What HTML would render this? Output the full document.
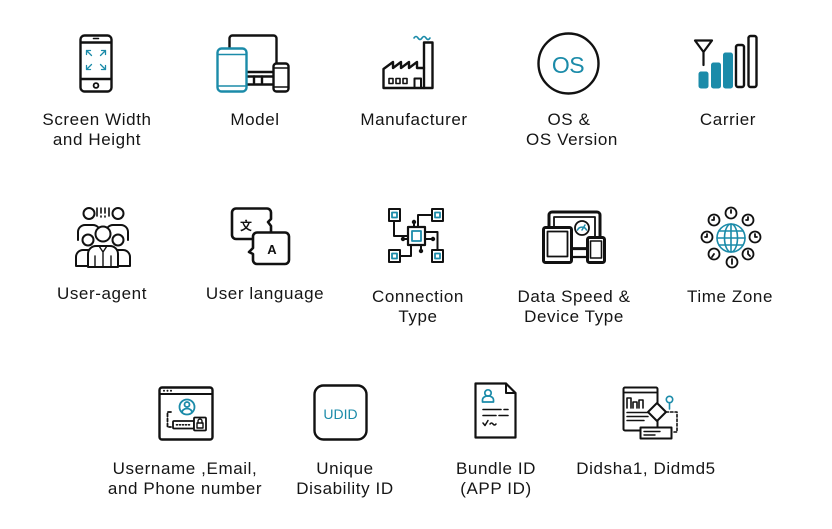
<!DOCTYPE html>
<html><head><meta charset="utf-8"><style>
html,body{margin:0;padding:0;background:#fff;}
svg{display:block;}
text{font-family:"Liberation Sans",sans-serif;}
.l{font-size:17px;fill:#151515;letter-spacing:0.6px;text-anchor:middle;}
</style></head><body>
<svg width="832" height="529" viewBox="0 0 832 529" xmlns="http://www.w3.org/2000/svg">
<g fill="none" stroke="#111" stroke-width="2.4" stroke-linecap="round" stroke-linejoin="round">

<!-- Screen width phone -->
<rect x="80.5" y="35.5" width="31" height="56" rx="4"/>
<line x1="81" y1="42.5" x2="111" y2="42.5"/>
<line x1="81" y1="79" x2="111" y2="79"/>
<line x1="93.5" y1="38.5" x2="98.5" y2="38.5" stroke-width="1.6"/>
<circle cx="96" cy="85.5" r="2.4" stroke-width="1.8"/>
<g stroke="#1b8ba9" stroke-width="1.3">
<path d="M91.5,55.5 L86.5,50.5 M86.5,50.5 h4 M86.5,50.5 v4"/>
<path d="M100.5,55.5 L105.5,50.5 M105.5,50.5 h-4 M105.5,50.5 v4"/>
<path d="M91.5,64.5 L86.5,69.5 M86.5,69.5 h4 M86.5,69.5 v-4"/>
<path d="M100.5,64.5 L105.5,69.5 M105.5,69.5 h-4 M105.5,69.5 v-4"/>
</g>

<!-- Model -->
<rect x="229.5" y="35.5" width="47" height="41" rx="3"/>
<line x1="240" y1="72" x2="276" y2="72"/>
<path d="M254,76.5 V83 M262,76.5 V83"/>
<line x1="246" y1="84.5" x2="272" y2="84.5"/>
<rect x="217.5" y="48.5" width="29" height="43" rx="4" fill="#fff" stroke="#1b8ba9"/>
<line x1="218" y1="54.5" x2="246" y2="54.5" stroke="#1b8ba9" stroke-width="1.6"/>
<line x1="218" y1="86" x2="246" y2="86" stroke="#1b8ba9" stroke-width="1.6"/>
<rect x="273.5" y="63.5" width="15" height="28" rx="3" fill="#fff"/>
<line x1="274" y1="68" x2="288" y2="68" stroke-width="1.6"/>
<line x1="274" y1="87" x2="288" y2="87" stroke-width="1.6"/>

<!-- Manufacturer -->
<path d="M383.5,88 V69 L393,62 V68 L401,62 V68 L409,62 V68 L417,62 V68 H424 V42.5 H432.5 V88 Z"/>
<path d="M424,68 V88"/>
<rect x="389" y="78.5" width="4" height="5" stroke-width="1.6"/>
<rect x="396" y="78.5" width="4" height="5" stroke-width="1.6"/>
<rect x="403" y="78.5" width="4" height="5" stroke-width="1.6"/>
<path d="M414.5,88 V78.5 H421 V88" stroke-width="2"/>
<path d="M414,38 q2,-3 4,0 t4,0 t4,0 t4,0" stroke="#1b8ba9" stroke-width="1.6"/>

<!-- OS -->
<circle cx="568.5" cy="63.5" r="30"/>

<!-- Carrier -->
<path d="M695,40.5 H712 L703.5,52 Z M703.5,52 V65" stroke-width="2.2"/>
<rect x="699" y="72" width="9" height="16" rx="2" fill="#1b8ba9" stroke="#1b8ba9" stroke-width="1"/>
<rect x="711.5" y="63" width="9" height="25" rx="2" fill="#1b8ba9" stroke="#1b8ba9" stroke-width="1"/>
<rect x="723.5" y="53" width="9" height="35" rx="2" fill="#1b8ba9" stroke="#1b8ba9" stroke-width="1"/>
<rect x="736" y="45" width="8" height="42" rx="2"/>
<rect x="748.5" y="36" width="8" height="51" rx="2"/>

<!-- User-agent -->
<g stroke-width="2" fill="#fff">
<path d="M78,240 V232 a7,7 0 0 1 7,-7 h8 a7,7 0 0 1 7,7 V240"/>
<circle cx="89" cy="213.5" r="5.5"/>
<path d="M106,240 V232 a7,7 0 0 1 7,-7 h8 a7,7 0 0 1 7,7 V240"/>
<circle cx="118" cy="213.5" r="5.5"/>
<path d="M76,266 V257 a7,7 0 0 1 7,-7 h9 a7,7 0 0 1 7,7 V266 Z"/>
<circle cx="88" cy="240" r="5.5"/>
<path d="M107,266 V257 a7,7 0 0 1 7,-7 h9 a7,7 0 0 1 7,7 V266 Z"/>
<circle cx="118" cy="240" r="5.5"/>
<path d="M88,267 V254 a8,8 0 0 1 8,-8 h14 a8,8 0 0 1 8,8 V267 Z"/>
<circle cx="103" cy="234" r="7.5"/>
<path d="M99,246 L103,252 L107,246 M103,252 V267 M95,256 V267 M111,256 V267" fill="none" stroke-width="1.4"/>
<path d="M97,208 v8 M101,208 v5 M101,216 v1 M105,208 v5 M105,216 v1 M109,208 v8" stroke-width="1.6"/>
</g>

<!-- User language -->
<path d="M236,208.5 H267 a4,4 0 0 1 4,4 V219 L268,222 L271,226 V235 a4,4 0 0 1 -4,4 H236 a4,4 0 0 1 -4,-4 V212.5 a4,4 0 0 1 4,-4 Z" stroke-width="2.6"/>
<path d="M257,232.5 H285 a4,4 0 0 1 4,4 V260 a4,4 0 0 1 -4,4 H257 a4,4 0 0 1 -4,-4 V254 L249,252 L253,248 V236.5 a4,4 0 0 1 4,-4 Z" fill="#fff" stroke-width="2.6"/>

<!-- Connection type -->
<g stroke-width="2">
<path d="M394,221.5 V236 H408"/>
<path d="M432,215 H418 V227"/>
<path d="M400,256 H411 V245"/>
<path d="M425,232 H437.5 V250"/>
<path d="M414,227 V223 M425,239 H432 M408,239 H403 M421,245 V250"/>
<rect x="408" y="227" width="17" height="18" fill="#fff" stroke-width="2.2"/>
<rect x="389" y="209" width="11" height="12" fill="#fff"/>
<rect x="432" y="209" width="11" height="12" fill="#fff"/>
<rect x="389" y="250" width="11" height="12" fill="#fff"/>
<rect x="432" y="250" width="11" height="12" fill="#fff"/>
</g>
<g stroke="#1b8ba9" stroke-width="1.8">
<rect x="412" y="231" width="9" height="10"/>
<rect x="392" y="212.5" width="5" height="5"/>
<rect x="435" y="212.5" width="5" height="5"/>
<rect x="392" y="253.5" width="5" height="5"/>
<rect x="435" y="253.5" width="5" height="5"/>
</g>
<g fill="#111" stroke="none">
<circle cx="414" cy="222" r="2.2"/><circle cx="433" cy="239" r="2.2"/>
<circle cx="403" cy="239" r="2.2"/><circle cx="421" cy="251" r="2.2"/>
</g>

<!-- Data speed -->
<rect x="549" y="212" width="51" height="40" rx="3" stroke-width="3"/>
<rect x="554" y="217" width="41" height="31" stroke-width="1.8"/>
<rect x="570" y="249" width="18" height="8" stroke-width="2.2" fill="#fff"/>
<rect x="543.5" y="227.5" width="28" height="35" rx="2" fill="#fff" stroke-width="3"/>
<rect x="547.5" y="231.5" width="20" height="25" stroke-width="1.8"/>
<rect x="587.5" y="237.5" width="17" height="25" rx="2" fill="#fff" stroke-width="3"/>
<rect x="590.5" y="241" width="11" height="17" stroke-width="1.6"/>
<circle cx="582" cy="228" r="7" stroke-width="1.8" fill="#fff"/>
<path d="M577.5,230 a5,5 0 0 1 9,0" stroke="#1b8ba9" stroke-width="1.5"/>
<path d="M582,230 L585,225" stroke="#1b8ba9" stroke-width="1.5"/>

<!-- Time zone -->
<g stroke="#1b8ba9" stroke-width="1.6">
<circle cx="731" cy="238" r="14"/>
<ellipse cx="731" cy="238" rx="6.5" ry="14"/>
<line x1="731" y1="224" x2="731" y2="252"/>
<line x1="717" y1="238" x2="745" y2="238"/>
<line x1="719" y1="231" x2="743" y2="231"/>
<line x1="719" y1="245" x2="743" y2="245"/>
</g>
<g stroke-width="1.8">
<circle cx="731" cy="213" r="5.5"/><path d="M731,210 v3"/>
<circle cx="748" cy="220" r="5.5"/><path d="M748,217 v3 h-2"/>
<circle cx="755" cy="237" r="5.5"/><path d="M755,234 v3 h2"/>
<circle cx="748" cy="254" r="5.5"/><path d="M748,251 v3 l2,2"/>
<circle cx="732" cy="262" r="5.5"/><path d="M732,259 v5"/>
<circle cx="714" cy="254" r="5.5"/><path d="M714,254 l-2,3"/>
<circle cx="707" cy="237" r="5.5"/><path d="M707,234 v3 h-2"/>
<circle cx="714" cy="220" r="5.5"/><path d="M714,217 v3 h-2"/>
</g>

<!-- Username -->
<rect x="159.5" y="387.5" width="53" height="52" rx="2.5"/>
<line x1="160" y1="394" x2="212" y2="394" stroke-width="2"/>
<g fill="#111" stroke="none"><circle cx="164" cy="390.8" r="1"/><circle cx="167.5" cy="390.8" r="1"/><circle cx="171" cy="390.8" r="1"/></g>
<g stroke="#1b8ba9" stroke-width="1.8">
<circle cx="187" cy="407" r="7.5"/>
<circle cx="187" cy="404.5" r="2.5"/>
<path d="M182,412.5 a5,4 0 0 1 10,0"/>
</g>
<path d="M171,412 H167.5 V427 H171" stroke-width="1.8" stroke-dasharray="3 2"/>
<rect x="173" y="421" width="21" height="7.5" rx="1" stroke-width="1.8"/>
<path d="M176.5,424.8 h1 M179.5,424.8 h1 M182.5,424.8 h1 M185.5,424.8 h1 M188.5,424.8 h1" stroke-width="1.6"/>
<rect x="194" y="417.5" width="12" height="13" rx="1" stroke-width="1.8" fill="#fff"/>
<rect x="197" y="423" width="6" height="5" stroke-width="1.4"/>
<path d="M198,423 v-2 a2,2 0 0 1 4,0 v2" stroke-width="1.4"/>

<!-- UDID -->
<rect x="314.5" y="385.5" width="52" height="54" rx="9"/>

<!-- Bundle ID -->
<path d="M475.5,383.5 H506 L515.5,393 V437.5 H475.5 Z" stroke-width="2.2"/>
<path d="M506,383.5 V393 H515.5" stroke-width="2"/>
<g stroke="#1b8ba9" stroke-width="1.7">
<circle cx="488" cy="393" r="3.2"/>
<path d="M482.5,402 v-2 a4,3 0 0 1 11,0 v2 Z"/>
</g>
<path d="M483,409.5 H501 M504,409.5 H508 M483,415.5 H496 M499,415.5 H508" stroke-width="1.6"/>
<path d="M483,423 l2,2.5 l3,-5 M490,424 q1.5,-2 3,0 t3,0" stroke-width="1.5"/>

<!-- Didsha -->
<rect x="623.5" y="387.5" width="34" height="43" rx="1.5" stroke-width="2"/>
<line x1="624" y1="392.5" x2="657" y2="392.5" stroke-width="1.8"/>
<path d="M627,408 V398 H631 V408 M633,408 V402 H637 V408 M639,408 V400 H643 V408" stroke-width="1.6"/>
<path d="M627,412.5 H648 M627,416.5 H648 M627,420.5 H644" stroke-width="1.5"/>
<path d="M657,403 L666,412 L657,421 L648,412 Z" fill="#fff" stroke-width="2"/>
<path d="M666,412 H677 V432 H672" stroke-width="1.6" stroke-dasharray="2.5 2"/>
<circle cx="669.5" cy="399.5" r="3.2" stroke="#1b8ba9" stroke-width="1.6"/>
<line x1="669.5" y1="403" x2="669.5" y2="409" stroke="#1b8ba9" stroke-width="1.6"/>
<rect x="640.5" y="427.5" width="31" height="11" fill="#fff" stroke-width="2"/>
<path d="M644,431.5 H660 M644,435 H655" stroke-width="1.4"/>
</g>

<!-- glyphs inside icons -->
<text x="568" y="73" font-size="23" fill="#1b8ba9" text-anchor="middle" letter-spacing="-0.5">OS</text>
<text x="340.5" y="419" font-size="14" fill="#1b8ba9" text-anchor="middle">UDID</text>
<text x="246" y="230" font-size="12" font-weight="bold" fill="#111" text-anchor="middle" style="font-family:'Liberation Sans','Noto Sans CJK SC',sans-serif">文</text>
<text x="272" y="254" font-size="13" font-weight="bold" fill="#111" text-anchor="middle">A</text>

<!-- Labels -->
<text class="l" x="97" y="125">Screen Width</text>
<text class="l" x="97" y="145">and Height</text>
<text class="l" x="255" y="125">Model</text>
<text class="l" x="414" y="125">Manufacturer</text>
<text class="l" x="569" y="125">OS &amp;</text>
<text class="l" x="572" y="145">OS Version</text>
<text class="l" x="728" y="125">Carrier</text>

<text class="l" x="102" y="299">User-agent</text>
<text class="l" x="265" y="299">User language</text>
<text class="l" x="418" y="302">Connection</text>
<text class="l" x="418" y="322">Type</text>
<text class="l" x="574" y="302">Data Speed &amp;</text>
<text class="l" x="574" y="322">Device Type</text>
<text class="l" x="730" y="302">Time Zone</text>

<text class="l" x="185" y="474">Username ,Email,</text>
<text class="l" x="185" y="494">and Phone number</text>
<text class="l" x="345" y="474">Unique</text>
<text class="l" x="345" y="494">Disability ID</text>
<text class="l" x="496" y="474">Bundle ID</text>
<text class="l" x="496" y="494">(APP ID)</text>
<text class="l" x="646" y="474">Didsha1, Didmd5</text>
</svg>
</body></html>
